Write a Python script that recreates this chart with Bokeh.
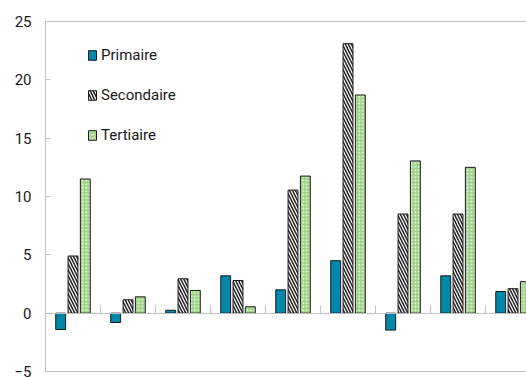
import numpy as np
from bokeh.plotting import figure
from bokeh.models import Range1d, LinearAxis, FixedTicker
from bokeh.embed import file_html
from bokeh.resources import INLINE

groups = ["G1", "G2", "G3", "G4", "G5", "G6", "G7", "G8", "G9"]
primaire = [-1.4, -0.8, 0.25, 3.2, 2.0, 4.5, -1.45, 3.2, 1.85]
secondaire = [4.9, 1.15, 2.95, 2.8, 10.55, 23.1, 8.5, 8.5, 2.1]
tertiaire = [11.5, 1.4, 1.95, 0.55, 11.75, 18.7, 13.05, 12.5, 2.7]
y_ticks = [-5, 0, 5, 10, 15, 20, 25]

FONT = "Roboto"
GRAY = "#C0C0C0"

centers = np.arange(len(groups)) + 0.5

p = figure(width=526, height=379, output_backend="svg", toolbar_location=None,
           x_range=Range1d(0, 8.745), y_range=Range1d(-5, 25),
           min_border_left=45, min_border_right=0, min_border_top=21, min_border_bottom=8)
p.outline_line_color = None
p.grid.visible = False
p.background_fill_color = "white"

# y axis
p.yaxis.ticker = FixedTicker(ticks=y_ticks)
p.yaxis.axis_line_color = GRAY
p.yaxis.major_tick_line_color = GRAY
p.yaxis.major_tick_in = 5
p.yaxis.major_tick_out = 0
p.yaxis.minor_tick_line_color = None
p.yaxis.major_label_text_font = FONT
p.yaxis.major_label_text_font_size = "15px"
p.yaxis.major_label_text_color = "#1a1a1a"
p.yaxis.major_label_standoff = 14

# bottom axis (frame bottom line)
p.xaxis.ticker = FixedTicker(ticks=[])
p.xaxis.axis_line_color = GRAY
p.xaxis.major_label_text_font_size = "0px"
p.xaxis.major_tick_line_color = None
p.xaxis.minor_tick_line_color = None
p.xaxis.major_label_standoff = 0

# top line
top_ax = LinearAxis(ticker=FixedTicker(ticks=[]), axis_line_color=GRAY,
                    major_label_text_font_size="0px", major_tick_line_color=None,
                    minor_tick_line_color=None, major_label_standoff=0)
p.add_layout(top_ax, "above")

# zero line with category separators
zero_ax = LinearAxis(ticker=FixedTicker(ticks=list(np.arange(1, len(groups) + 1))),
                     axis_line_color=GRAY, major_tick_line_color=GRAY,
                     major_tick_in=8, major_tick_out=0,
                     major_label_text_font_size="0px", minor_tick_line_color=None,
                     major_label_standoff=0, fixed_location=0)
p.add_layout(zero_ax, "below")

w = 0.18
off = 0.224
p.vbar(x=centers - off, top=primaire, bottom=0, width=w, fill_color="#0088AA",
       line_color="#1a1a1a", line_width=1, legend_label="Primaire")
p.vbar(x=centers, top=secondaire, bottom=0, width=w, fill_color="white",
       hatch_pattern="\\", hatch_color="#222222", hatch_scale=6, hatch_weight=1.5,
       line_color="#1a1a1a", line_width=1, legend_label="Secondaire")
p.vbar(x=centers + off, top=tertiaire, bottom=0, width=w, fill_color="#9ED389",
       hatch_pattern=".", hatch_color="white", hatch_scale=3.5, hatch_weight=1.2,
       line_color="#1a1a1a", line_width=1, legend_label="Tertiaire")

lg = p.legend[0]
lg.location = (42, 226)
lg.padding = 0
lg.margin = 0
lg.spacing = 20
lg.border_line_color = None
lg.background_fill_alpha = 0
lg.glyph_width = 10
lg.glyph_height = 12
lg.label_height = 20
lg.label_standoff = 4
lg.label_text_font = FONT
lg.label_text_font_size = "15px"
lg.label_text_color = "#1a1a1a"

open("out.html", "w").write(file_html(p, INLINE))
